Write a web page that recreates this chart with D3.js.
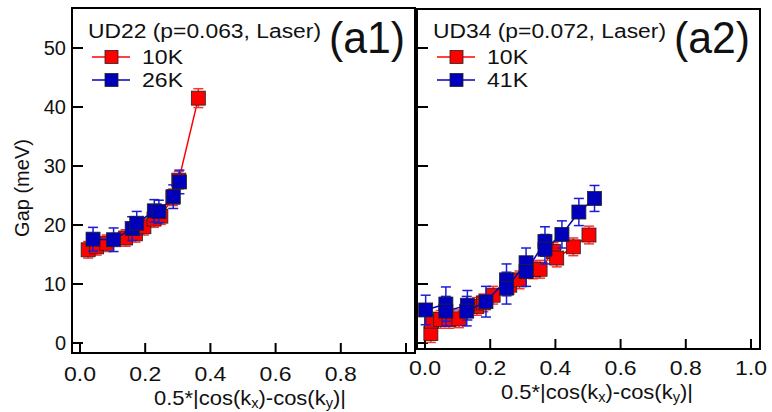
<!DOCTYPE html>
<html><head><meta charset="utf-8">
<script src="https://cdn.jsdelivr.net/npm/d3@7"></script>
<style>body{margin:0;background:#fff} text{font-family:"Liberation Sans",Arial,Helvetica,sans-serif;fill:#111}</style>
</head><body><svg id="c" width="772" height="412"></svg>
<script>
const a1XTicks = [0, 0.2, 0.4, 0.6, 0.8, 1.0];
const a1XLabels = ["0.0", "0.2", "0.4", "0.6", "0.8", ""];
const a2XTicks = [0, 0.2, 0.4, 0.6, 0.8, 1.0];
const a2XLabels = ["0.0", "0.2", "0.4", "0.6", "0.8", "1.0"];
const yTicks = [0, 10, 20, 30, 40, 50];

// Panel a1: UD22
const a1Title = "UD22 (p=0.063, Laser)";
const a1Tag = "(a1)";
const a1Names = ["10K", "26K"];
const a1Red_x = [0.025, 0.051, 0.082, 0.140, 0.170, 0.196, 0.227, 0.248, 0.285, 0.303, 0.363];
const a1Red_y = [15.8, 16.3, 16.9, 17.8, 18.5, 19.7, 21.0, 21.5, 24.7, 27.6, 41.5];
const a1Red_e = [1.4, 1.4, 1.4, 1.4, 1.4, 1.4, 1.4, 1.4, 1.4, 1.5, 1.6];
const a1Blue_x = [0.040, 0.103, 0.160, 0.174, 0.228, 0.242, 0.286, 0.305];
const a1Blue_y = [17.6, 17.5, 19.4, 20.3, 22.4, 22.3, 24.8, 27.3];
const a1Blue_e = [2.0, 2.0, 2.0, 2.0, 1.9, 1.9, 2.0, 2.0];

// Panel a2: UD34
const a2Title = "UD34 (p=0.072, Laser)";
const a2Tag = "(a2)";
const a2Names = ["10K", "41K"];
const a2Red_x = [0.018, 0.020, 0.048, 0.074, 0.104, 0.159, 0.179, 0.209, 0.260, 0.290, 0.332, 0.353, 0.394, 0.404, 0.455, 0.503];
const a2Red_y = [1.6, 3.7, 4.0, 4.0, 4.1, 6.2, 6.8, 8.1, 9.8, 10.7, 12.4, 12.5, 15.5, 14.4, 16.3, 18.3];
const a2Red_e = [1.5, 1.5, 1.5, 1.5, 1.5, 1.5, 1.5, 1.5, 1.5, 1.5, 1.5, 1.5, 1.5, 1.5, 1.5, 1.5];
const a2Blue_x = [0.002, 0.064, 0.064, 0.130, 0.128, 0.187, 0.250, 0.250, 0.310, 0.310, 0.368, 0.368, 0.420, 0.472, 0.520];
const a2Blue_y = [5.6, 6.6, 5.4, 6.4, 5.4, 7.0, 10.7, 9.3, 13.6, 12.1, 17.2, 15.9, 18.4, 22.2, 24.5];
const a2Blue_e = [2.5, 2.9, 2.5, 2.5, 2.5, 2.6, 2.7, 2.7, 2.5, 2.5, 2.5, 2.5, 2.3, 2.3, 2.2];

const yTitle = "Gap (meV)";
const xTitleParts = [["0.5*|cos(k", 0], ["x", 1], [")-cos(k", 0], ["y", 1], [")|", 0]];

const svg = d3.select("#c");
const RED = "#ff0000", RED_E = "#ff3030", BLUE = "#0000bb", BLUE_E = "#1c1cd8";

function series(xs, ys, es) { return xs.map((x, i) => ({x, y: ys[i], e: es[i]})); }

function panel(o) {
  const g = svg.append("g");
  const x = d3.scaleLinear().domain([0, 1]).range([o.x0, o.x1]);
  const y = d3.scaleLinear().domain([0, 50]).range([343, 48]);
  g.append("rect").attr("x", o.left).attr("y", o.top).attr("width", o.right - o.left)
    .attr("height", o.bottom - o.top).attr("fill", "none").attr("stroke", "#000").attr("stroke-width", 2);
  g.selectAll(".yt").data(yTicks).join("line")
    .attr("x1", o.left).attr("x2", o.left + 11).attr("y1", d => y(d)).attr("y2", d => y(d))
    .attr("stroke", "#000").attr("stroke-width", 2);
  if (o.yLabels) {
    g.selectAll(".yl").data(yTicks).join("text")
      .attr("x", o.left - 6).attr("y", d => y(d) + 7).attr("text-anchor", "end")
      .attr("font-size", 20).text(d => d);
  }
  g.selectAll(".xt").data(o.xTicks).join("line")
    .attr("x1", d => x(d)).attr("x2", d => x(d)).attr("y1", o.bottom).attr("y2", o.bottom - 10)
    .attr("stroke", "#000").attr("stroke-width", 2);
  g.selectAll(".xl").data(o.xTicks.filter((d, i) => o.xLabels[i] !== "")).join("text")
    .attr("x", d => x(d)).attr("y", o.labelY).attr("text-anchor", "middle")
    .attr("font-size", 20).attr("textLength", 32).attr("lengthAdjust", "spacingAndGlyphs")
    .text(d => o.xLabels[o.xTicks.indexOf(d)]);
  const t = g.append("text").attr("x", o.titleX).attr("y", o.titleY).attr("text-anchor", "middle")
    .attr("font-size", 21).attr("textLength", 192).attr("lengthAdjust", "spacingAndGlyphs");
  let prevSub = 0;
  xTitleParts.forEach(([s, sub]) => {
    const dy = sub ? 3 : (prevSub ? -3 : 0);
    t.append("tspan").attr("font-size", sub ? 14 : 21).attr("dy", dy).text(s);
    prevSub = sub;
  });

  const line = d3.line().x(d => x(d.x)).y(d => y(d.y));
  function drawSeries(data, col, ecol) {
    const s = g.append("g");
    s.append("path").datum(data).attr("d", line).attr("fill", "none").attr("stroke", col).attr("stroke-width", 1.5);
    const eb = s.selectAll(".eb").data(data).join("g").attr("stroke", ecol).attr("stroke-width", 1.5);
    eb.append("line").attr("x1", d => x(d.x)).attr("x2", d => x(d.x)).attr("y1", d => y(d.y - d.e)).attr("y2", d => y(d.y + d.e));
    eb.append("line").attr("x1", d => x(d.x) - 5).attr("x2", d => x(d.x) + 5).attr("y1", d => y(d.y - d.e)).attr("y2", d => y(d.y - d.e));
    eb.append("line").attr("x1", d => x(d.x) - 5).attr("x2", d => x(d.x) + 5).attr("y1", d => y(d.y + d.e)).attr("y2", d => y(d.y + d.e));
    s.selectAll(".mk").data(data).join("rect")
      .attr("x", d => x(d.x) - 7).attr("y", d => y(d.y) - 7).attr("width", 14).attr("height", 14)
      .attr("fill", col).attr("stroke", "#222").attr("stroke-width", 0.8);
  }
  drawSeries(o.red, RED, RED_E);
  drawSeries(o.blue, BLUE, BLUE_E);

  const lx = o.left + 16;
  g.append("text").attr("x", lx).attr("y", 38).attr("font-size", 20)
    .attr("textLength", 233).attr("lengthAdjust", "spacingAndGlyphs").text(o.title);
  [[RED, o.names[0], 57], [BLUE, o.names[1], 80]].forEach(([c, n, yy]) => {
    g.append("line").attr("x1", lx + 4).attr("x2", lx + 42).attr("y1", yy).attr("y2", yy).attr("stroke", c).attr("stroke-width", 1.5);
    g.append("rect").attr("x", lx + 17).attr("y", yy - 6.5).attr("width", 13).attr("height", 13).attr("fill", c).attr("stroke", "#222").attr("stroke-width", 0.8);
    g.append("text").attr("x", lx + 54).attr("y", yy + 7).attr("font-size", 20)
      .attr("textLength", 41).attr("lengthAdjust", "spacingAndGlyphs").text(n);
  });
  g.append("text").attr("x", o.right - 10).attr("y", 53).attr("text-anchor", "end").attr("font-size", 44)
    .attr("textLength", 76).attr("lengthAdjust", "spacingAndGlyphs").text(o.tag);
}

panel({left: 72, right: 415, top: 8, bottom: 353, x0: 80, x1: 406, yLabels: true,
  xTicks: a1XTicks, xLabels: a1XLabels, labelY: 381, titleX: 250, titleY: 405,
  title: a1Title, tag: a1Tag, names: a1Names,
  red: series(a1Red_x, a1Red_y, a1Red_e), blue: series(a1Blue_x, a1Blue_y, a1Blue_e)});
panel({left: 417, right: 760, top: 9, bottom: 349, x0: 425, x1: 751, yLabels: false,
  xTicks: a2XTicks, xLabels: a2XLabels, labelY: 375, titleX: 597, titleY: 399,
  title: a2Title, tag: a2Tag, names: a2Names,
  red: series(a2Red_x, a2Red_y, a2Red_e), blue: series(a2Blue_x, a2Blue_y, a2Blue_e)});

svg.append("text").attr("transform", "translate(29,188) rotate(-90)").attr("text-anchor", "middle")
  .attr("font-size", 20).text(yTitle);
</script></body></html>
